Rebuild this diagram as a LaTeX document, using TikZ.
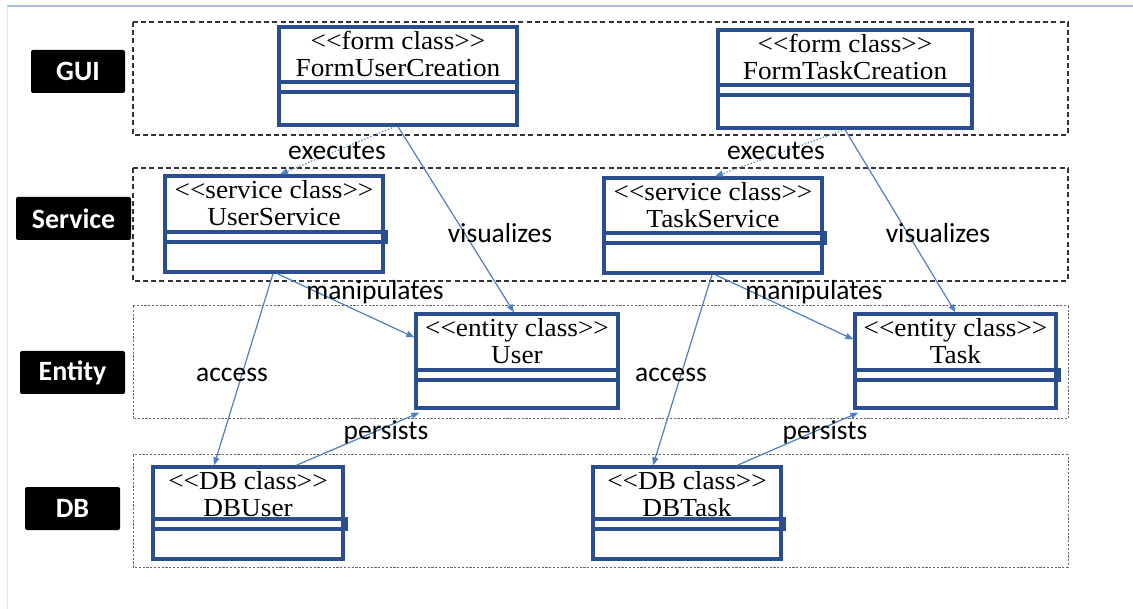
\documentclass[tikz,border=0pt]{standalone}
\usepackage{fontspec}
\newfontfamily\clsfont[FakeStretch=1.05]{Liberation Serif}
\newfontfamily\lblfont{Carlito}
\usetikzlibrary{fit,calc,arrows.meta}
\definecolor{boxblue}{HTML}{2B4F8E}
\definecolor{arrblue}{HTML}{4F7FC0}
\definecolor{frameblue}{HTML}{A9BCDD}
\definecolor{layergray}{HTML}{6A6A6A}
\tikzset{
  clsbox/.style={draw=boxblue, line width=3.2pt, inner sep=0pt, fill=white},
  clsline/.style={draw=boxblue, line width=3.2pt},
  clstxt/.style={font=\clsfont\fontsize{26}{28}\selectfont, inner sep=0pt, text=black},
  conn/.style={draw=arrblue, line width=1.2pt, -{Triangle[length=8pt,width=6pt]}},
  execconn/.style={conn, dotted},
  edgelbl/.style={font=\lblfont\fontsize{27.5}{29}\selectfont, inner sep=0pt, anchor=base},
  layerlbl/.style={fill=black, text=white, rounded corners=2pt, inner sep=0pt,
                   font=\lblfont\bfseries\fontsize{28}{30}\selectfont},
  layerA/.style={draw=black!80, line width=1.5pt, dash pattern=on 5pt off 3.2pt},
  layerB/.style={draw=layergray, line width=1pt, dash pattern=on 2.2pt off 1.6pt},
}
% name, left, top, right, bottom, divider offset, divider extension, stereotype, name text
\newcommand\umlclass[9]{%
  \node[clsbox, fit={(#2,#3) (#4,#5)}] (#1) {};
  \draw[clsline] (#2,#3+#6) rectangle (#4+#7,#3+#6+10);
  \node[clstxt, anchor=base] (#1-st) at ($(#1.north)+(0,24)$) {#8};
  \node[clstxt, anchor=base] (#1-nm) at ($(#1.north)+(0,51)$) {#9};
}
\begin{document}
\begin{tikzpicture}[x=1pt,y=-1pt]
\useasboundingbox (0,0) rectangle (1133,609);
\fill[white] (0,0) rectangle (1133,609);
% frame lines
\draw[frameblue, line width=1.2pt] (7,6) -- (1133,6);
\draw[frameblue!35, line width=0.8pt] (7,6) -- (7,609);
% layers
\draw[layerA] (133,22) rectangle (1068,135);
\draw[layerA] (133,168) rectangle (1068,281);
\draw[layerB] (133,306) rectangle (1068,419);
\draw[layerB] (133,455) rectangle (1068,567);
% layer labels
\node[layerlbl, minimum width=94pt, minimum height=43pt] (lgui) at (78,71.5) {GUI};
\node[layerlbl, minimum width=115pt, minimum height=43pt] (lsrv) at (73.5,218.5) {Service};
\node[layerlbl, minimum width=105pt, minimum height=43pt] (lent) at (72.5,372.5) {Entity};
\node[layerlbl, minimum width=95pt, minimum height=43pt] (ldb) at (72.5,508.5) {DB};
% classes
\umlclass{fuc}{279}{27}{517}{125}{55}{0}{<<form class>>}{FormUserCreation}
\umlclass{ftc}{718}{30}{972}{128}{55}{0}{<<form class>>}{FormTaskCreation}
\umlclass{us}{165}{176}{383}{272}{56}{3}{<<service class>>}{UserService}
\umlclass{ts}{604}{178}{822}{273}{55}{3}{<<service class>>}{TaskService}
\umlclass{u}{416}{314}{618}{408}{56}{0}{<<entity class>>}{User}
\umlclass{t}{855}{314}{1056}{408}{56}{3}{<<entity class>>}{Task}
\umlclass{dbu}{153}{467}{343}{559}{52}{3}{<<DB class>>}{DBUser}
\umlclass{dbt}{593}{467}{781}{559}{52}{3}{<<DB class>>}{DBTask}
% connectors - user side
\draw[execconn] ([xshift=-3pt]fuc.south) -- ([xshift=6pt]us.north);
\draw[conn] (fuc.south) -- ([xshift=-3pt]u.north);
\draw[conn] ([xshift=3pt]us.south) -- ($(u.north west)+(0,25)$);
\draw[conn] ([xshift=-1pt]us.south) -- ([xshift=-34pt]dbu.north);
\draw[conn] ([xshift=48pt]dbu.north) -- ($(u.south west)+(5,3)$);
% connectors - task side
\draw[execconn] (ftc.south) -- ([xshift=2pt]ts.north);
\draw[conn] (ftc.south) -- (t.north);
\draw[conn] ([xshift=2pt]ts.south) -- ($(t.north west)+(0,27)$);
\draw[conn] ([xshift=-1pt]ts.south) -- ([xshift=-34pt]dbt.north);
\draw[conn] ([xshift=50pt]dbt.north) -- ($(t.south west)+(5,3)$);
% connector labels
\node[edgelbl] (l1) at (337,160) {executes};
\node[edgelbl] (l2) at (776,160) {executes};
\node[edgelbl] (l3) at (500,243) {visualizes};
\node[edgelbl] (l4) at (938,243) {visualizes};
\node[edgelbl] (l5) at (375,300) {manipulates};
\node[edgelbl] (l6) at (814,300) {manipulates};
\node[edgelbl] (l7) at (232,382) {access};
\node[edgelbl] (l8) at (671,382) {access};
\node[edgelbl] (l9) at (386,440) {persists};
\node[edgelbl] (l10) at (825,440) {persists};
\end{tikzpicture}
\end{document}
